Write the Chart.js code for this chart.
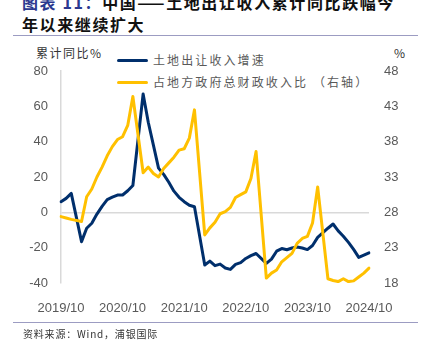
<!DOCTYPE html>
<html>
<head>
<meta charset="utf-8">
<script src="https://cdn.jsdelivr.net/npm/chart.js@4"></script>
<style>
  html, body { margin: 0; padding: 0; background: #fff; }
  body { width: 427px; height: 352px; position: relative; overflow: hidden; font-family: "Noto Sans CJK SC", sans-serif; }
  #chart { position: absolute; left: 0; top: 0; }
  .title { position: absolute; left: 22px; top: -9px; font-size: 16px; line-height: 22px; font-weight: bold; letter-spacing: 1.6px; color: #111; white-space: nowrap; }
  .title .num { color: #2B3990; }
  .rule { position: absolute; left: 13px; width: 405px; height: 1px; background: #9c9cc2; }
  .source { position: absolute; left: 23px; top: 326px; font-size: 10px; letter-spacing: 0.8px; color: #333; white-space: nowrap; }
  .axis-title { position: absolute; top: 44px; font-size: 12px; letter-spacing: 1.5px; color: #333; white-space: nowrap; }
  .legend { position: absolute; left: 117px; font-size: 12px; letter-spacing: 2.1px; color: #595959; white-space: nowrap; line-height: 16px; }
  .legend i { display: inline-block; width: 31px; height: 3.5px; vertical-align: middle; margin-right: 5px; border-radius: 2px; position: relative; top: -1px; }
</style>
</head>
<body>
<div class="title"><span class="num">图表 11：</span>中国——土地出让收入累计同比跌幅今<br>年以来继续扩大</div>
<div class="rule" style="top:35px"></div>
<div class="axis-title" style="left:36px">累计同比%</div>
<div class="axis-title" style="left:394px;letter-spacing:0">%</div>
<div class="legend" style="top:52px"><i style="background:#002F6C"></i>土地出让收入增速</div>
<div class="legend" style="top:74px"><i style="background:#FFC000"></i>占地方政府总财政收入比 （右轴）</div>
<canvas id="chart" width="427" height="352"></canvas>
<div class="rule" style="top:322px"></div>
<div class="source">资料来源：Wind，浦银国际</div>
<script>
// 月度标签，1月与2月合并公布，1月留空
const months = [
  "2019/10", "2019/11", "2019/12",
  "2020/01", "2020/02", "2020/03", "2020/04", "2020/05", "2020/06", "2020/07", "2020/08", "2020/09", "2020/10", "2020/11", "2020/12",
  "2021/01", "2021/02", "2021/03", "2021/04", "2021/05", "2021/06", "2021/07", "2021/08", "2021/09", "2021/10", "2021/11", "2021/12",
  "2022/01", "2022/02", "2022/03", "2022/04", "2022/05", "2022/06", "2022/07", "2022/08", "2022/09", "2022/10", "2022/11", "2022/12",
  "2023/01", "2023/02", "2023/03", "2023/04", "2023/05", "2023/06", "2023/07", "2023/08", "2023/09", "2023/10", "2023/11", "2023/12",
  "2024/01", "2024/02", "2024/03", "2024/04", "2024/05", "2024/06", "2024/07", "2024/08", "2024/09", "2024/10",
];

// 土地出让收入累计同比（%，左轴）
const landRevenueYoy = [
  6, 7.9, 10.7,
  null, -16.6, -9, -6.2, -1, 3.4, 7.2, 8.6, 9.8, 9.8, 12.2, 15.2,
  null, 67, 51, 38, 25, 21.5, 17, 12, 8.5, 6, 4, 3.2,
  null, -29.8, -27.6, -30.2, -29.3, -31.5, -32.3, -29.5, -28.5, -26.1, -24.5, -23.3,
  null, -28.9, -26.5, -22, -20.5, -21.2, -20.2, -19.6, -20.2, -21.1, -18.8, -14.2,
  null, -9, -6.6, -10.5, -13.5, -17, -21, -25.5, -24.2, -22.9,
];

// 占地方政府总财政收入比（%，右轴）
const landShare = [
  27.4, 27.2, 27.0,
  null, 26.7, 30.2, 31.3, 33.0, 34.4, 36.0, 37.3, 38.3, 38.7, 40.3, 44.4,
  null, 33.6, 34.4, 33.5, 33.0, 34.2, 35.0, 35.8, 36.8, 37.0, 38.5, 42.5,
  null, 24.8, 25.8, 26.6, 27.8, 28.1, 28.7, 30.1, 30.5, 30.9, 32.8, 36.6,
  null, 18.7, 19.4, 19.85, 21.0, 21.6, 22.2, 23.6, 24.3, 24.6, 26.5, 31.6,
  null, 18.6, 18.35, 18.2, 18.6, 18.2, 18.3, 18.85, 19.4, 20.1,
];

const leftTicks = { min: -40, max: 80, step: 20 };
const rightTicks = { min: 18, max: 48, step: 5 };

const tickFont = { family: "'Liberation Sans', Arial, sans-serif", size: 13 };
const tickColor = "#595959";

new Chart(document.getElementById("chart"), {
  type: "line",
  data: {
    labels: months,
    datasets: [
      {
        label: "土地出让收入增速",
        data: landRevenueYoy,
        yAxisID: "y",
        borderColor: "#002F6C",
        borderWidth: 3,
        order: 1,
      },
      {
        label: "占地方政府总财政收入比 （右轴）",
        data: landShare,
        yAxisID: "y1",
        borderColor: "#FFC000",
        borderWidth: 3,
        order: 0,
      },
    ],
  },
  options: {
    responsive: false,
    animation: false,
    spanGaps: true,
    layout: { padding: { top: 71, left: 0, right: 0, bottom: 0 } },
    elements: {
      point: { radius: 0, hoverRadius: 0 },
      line: { tension: 0, borderJoinStyle: "round", borderCapStyle: "round" },
    },
    plugins: { legend: { display: false }, tooltip: { enabled: false } },
    scales: {
      x: {
        afterFit: (s) => { s.height = 69; },
        grid: { display: false },
        border: { display: false },
        ticks: {
          autoSkip: false,
          maxRotation: 0,
          padding: 10,
          color: tickColor,
          font: tickFont,
          callback: (v, i) => (months[i].endsWith("/10") ? months[i] : ""),
        },
      },
      y: {
        position: "left",
        min: leftTicks.min,
        max: leftTicks.max,
        afterFit: (s) => { s.width = 61; },
        grid: {
          drawTicks: false,
          color: (ctx) => (ctx.tick && ctx.tick.value === 0 ? "#d9d9d9" : "rgba(0,0,0,0)"),
          lineWidth: 1.5,
        },
        border: { display: true, color: "#d9d9d9", width: 1.5 },
        ticks: { stepSize: leftTicks.step, padding: 13, color: tickColor, font: tickFont },
      },
      y1: {
        position: "right",
        min: rightTicks.min,
        max: rightTicks.max,
        afterFit: (s) => { s.width = 58; },
        grid: { display: false, drawTicks: false },
        border: { display: false },
        ticks: { stepSize: rightTicks.step, padding: 15, color: tickColor, font: tickFont },
      },
    },
  },
});
</script>
</body>
</html>
